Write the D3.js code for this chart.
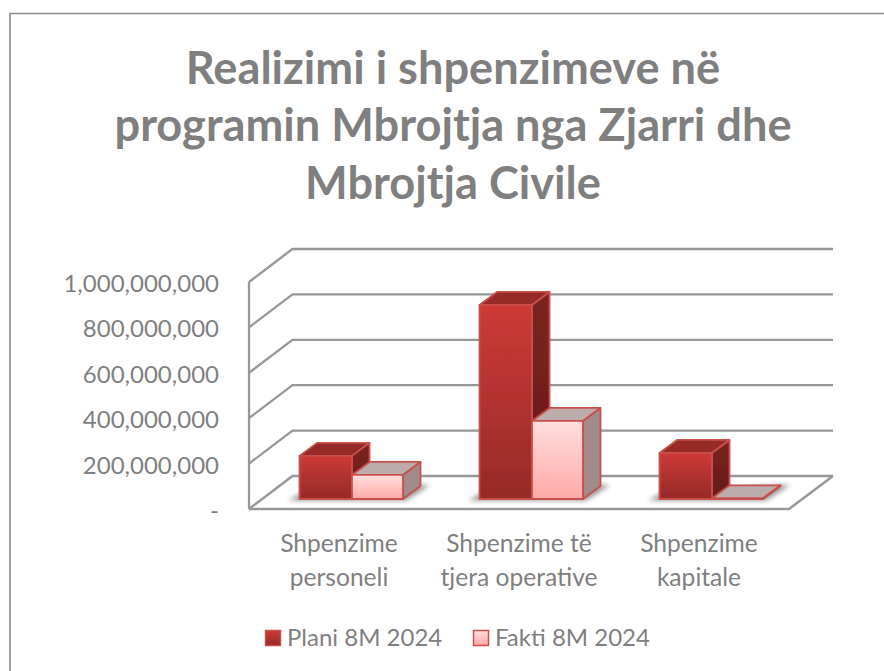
<!DOCTYPE html>
<html><head><meta charset="utf-8">
<script src="https://cdn.jsdelivr.net/npm/d3@7/dist/d3.min.js"></script>
<style>html,body{margin:0;padding:0;background:#fff;overflow:hidden}svg{display:block}text{font-family:Lato,sans-serif}</style>
</head><body><svg id="c" width="884" height="671"></svg>
<script>
const titleLines = ["Realizimi i shpenzimeve në","programin Mbrojtja nga Zjarri dhe","Mbrojtja Civile"];
const categories = [["Shpenzime","personeli"],["Shpenzime të","tjera operative"],["Shpenzime","kapitale"]];
const seriesNames = ["Plani 8M 2024","Fakti 8M 2024"];
const plani = [190000000,855000000,203000000];
const fakti = [106000000,344000000,3000000];
const ticks = [0,200000000,400000000,600000000,800000000,1000000000];

const svg = d3.select("#c");
const defs = svg.append("defs");
function grad(id,a,b){const g=defs.append("linearGradient").attr("id",id).attr("x1",0).attr("y1",0).attr("x2",0).attr("y2",1);
 g.append("stop").attr("offset",0).attr("stop-color",a);g.append("stop").attr("offset",1).attr("stop-color",b);}
grad("gP","#cd3a36","#962a27");grad("gF","#ffdfde","#ffa9a7");
grad("gPs","#7c2320","#651b19");
defs.append("filter").attr("id","blur").attr("x","-30%").attr("y","-60%").attr("width","160%").attr("height","220%")
 .append("feGaussianBlur").attr("stdDeviation",2.4);
defs.append("filter").attr("id","soft").append("feGaussianBlur").attr("stdDeviation",0.5);

const x = d3.scaleBand().domain(d3.range(categories.length)).range([249,789]);
const y = d3.scaleLinear().domain([0,1000000000]).range([509,282]);
const depth = {x:43.5,y:-33};
const inset = {x:13,y:-10};
const barDepth = {x:17.5,y:-13};
const barW = 52.5, barW2 = 51;

// chart frame: only top and left edges fall inside the picture
svg.append("path").attr("d","M10,671V13.5H884").attr("fill","none").attr("stroke","#8a8a8a").attr("stroke-width",1.6);

const wall = svg.append("g").attr("fill","none").attr("stroke","#979797").attr("stroke-width",2.3).attr("filter","url(#soft)");
ticks.forEach(t=>{
  const p=y(t);
  wall.append("path").attr("d",d3.line()([[249,p],[249+depth.x,p+depth.y],[833,p+depth.y]]));
});
wall.append("path").attr("d",d3.line()([[249,y(0)],[249,y(1000000000)]]));
wall.append("path").attr("d",d3.line()([[249,y(0)],[789,y(0)],[833,y(0)+depth.y]]));

function poly(g,pts,fill,stroke){g.append("path").attr("d",d3.line()(pts)+"Z").attr("fill",fill).attr("stroke",stroke).attr("stroke-width",1.8).attr("stroke-linejoin","round");}

const shadowG = svg.append("g").attr("filter","url(#blur)").attr("fill","#666").attr("opacity",0.7);
const marks = svg.append("g").attr("filter","url(#soft)");
const base = y(0)+inset.y;
function bar(x0,w,v,front,side,top,stroke){
  const t=y(v)+inset.y, x1=x0+w, dx=barDepth.x, dy=barDepth.y;
  poly(marks,[[x0,t],[x0+dx,t+dy],[x1+dx,t+dy],[x1,t]],top,stroke);
  poly(marks,[[x1,t],[x1+dx,t+dy],[x1+dx,base+dy],[x1,base]],side,stroke);
  poly(marks,[[x0,t],[x1,t],[x1,base],[x0,base]],front,stroke);
}
categories.forEach((c,i)=>{
  const cx = x(i)+x.bandwidth()/2+inset.x;
  shadowG.append("path").attr("d",d3.line()([[cx-barW-11,base+1.5],[cx-barW,base-5],[cx+barW2+17,base-14],[cx+barW2+27,base-14],[cx+barW2+3,base+1.5]])+"Z");
  bar(cx-barW,barW,plani[i],"url(#gP)","url(#gPs)","#962b27","#c9504c");
  bar(cx,barW2,fakti[i],"url(#gF)","#a08a8a","#bcacac","#c9504c");
});

const fmt = d => d===0 ? "-" : d3.format(",")(d);
svg.append("g").selectAll("text").data(ticks).join("text")
 .attr("x",219).attr("y",d=>y(d)+10).attr("text-anchor","end").attr("font-size",24).attr("fill","#7f7f7f").text(fmt);

categories.forEach((c,i)=>{
  const cx=x(i)+x.bandwidth()/2;
  c.forEach((s,j)=>svg.append("text").attr("x",cx).attr("y",552+j*34).attr("text-anchor","middle")
   .attr("font-size",24.6).attr("fill","#7f7f7f").text(s));
});

titleLines.forEach((s,i)=>svg.append("text").attr("x",453).attr("y",[84,141,199][i]).attr("text-anchor","middle")
  .attr("font-size",45.2).attr("font-weight",700).attr("fill","#7f7f7f").text(s));

const legX=[265,473];
const lg=svg.append("g");
seriesNames.forEach((s,i)=>{
  lg.append("rect").attr("x",legX[i]+.5).attr("y",630.5).attr("width",15).attr("height",15)
    .attr("fill",i?"url(#gF)":"url(#gP)").attr("stroke","#c9504c").attr("stroke-width",1.5);
  lg.append("text").attr("x",legX[i]+22).attr("y",646).attr("font-size",24).attr("fill","#7f7f7f").text(s);
});
</script></body></html>
